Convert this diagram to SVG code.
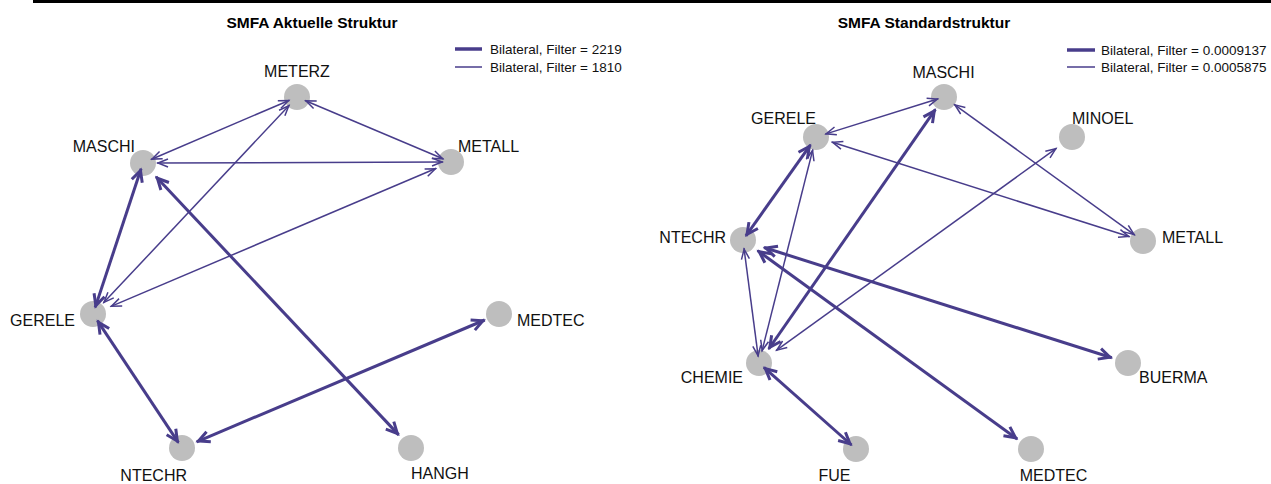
<svg xmlns="http://www.w3.org/2000/svg" width="1271" height="484" viewBox="0 0 1271 484">
<style>
.bg{fill:#ffffff}
.title{font-family:"Liberation Sans",Arial,sans-serif;font-weight:bold;font-size:15.5px;fill:#000;text-anchor:middle}
.lab{font-family:"Liberation Sans",Arial,sans-serif;font-size:16px;fill:#111}
.leg{font-family:"Liberation Sans",Arial,sans-serif;font-size:13.5px;fill:#111}
.node circle{fill:#BEBEBE}
.thin{stroke:#483D8B;stroke-width:1.5;fill:none;marker-start:url(#at);marker-end:url(#at)}
.thick{stroke:#483D8B;stroke-width:3;fill:none;marker-start:url(#ak);marker-end:url(#ak)}
.legthin{stroke:#483D8B;stroke-width:1.5}
.legthick{stroke:#483D8B;stroke-width:3.5}
</style>
<defs>
<marker id="at" viewBox="-14 -7 16 14" refX="0" refY="0" markerWidth="16" markerHeight="14" markerUnits="userSpaceOnUse" orient="auto-start-reverse">
<path d="M-11,-4 L-1,0 L-11,4" fill="none" stroke="#483D8B" stroke-width="1.5"/>
</marker>
<marker id="ak" viewBox="-16 -8 18 16" refX="0" refY="0" markerWidth="18" markerHeight="16" markerUnits="userSpaceOnUse" orient="auto-start-reverse">
<path d="M-13,-5.5 L-2,0 L-13,5.5" fill="none" stroke="#483D8B" stroke-width="3"/>
</marker>
</defs>
<rect class="bg" x="0" y="0" width="1271" height="484"/>
<rect x="33" y="0" width="1238" height="3" fill="#000"/>
<text class="title" x="312" y="28">SMFA Aktuelle Struktur</text>
<text class="title" x="924" y="28">SMFA Standardstruktur</text>
<g id="legend-left">
<line class="legthick" x1="455" y1="49" x2="482" y2="49"/>
<text class="leg" x="490" y="53.5">Bilateral, Filter = 2219</text>
<line class="legthin" x1="455" y1="67" x2="482" y2="67"/>
<text class="leg" x="490" y="71.5">Bilateral, Filter = 1810</text>
</g>
<g id="legend-right">
<line class="legthick" x1="1067" y1="50" x2="1095" y2="50"/>
<text class="leg" x="1101" y="54.5">Bilateral, Filter = 0.0009137</text>
<line class="legthin" x1="1067" y1="67" x2="1095" y2="67"/>
<text class="leg" x="1101" y="71.5">Bilateral, Filter = 0.0005875</text>
</g>
<g id="L-METERZ" class="node"><circle cx="297" cy="97" r="13"/><text class="lab" x="297" y="77" text-anchor="middle">METERZ</text></g>
<g id="L-MASCHI" class="node"><circle cx="143" cy="163" r="13"/><text class="lab" x="135" y="152" text-anchor="end">MASCHI</text></g>
<g id="L-METALL" class="node"><circle cx="451" cy="162" r="13"/><text class="lab" x="458" y="152">METALL</text></g>
<g id="L-GERELE" class="node"><circle cx="93" cy="314" r="13"/><text class="lab" x="75" y="325.5" text-anchor="end">GERELE</text></g>
<g id="L-NTECHR" class="node"><circle cx="182" cy="448" r="13"/><text class="lab" x="187" y="481" text-anchor="end">NTECHR</text></g>
<g id="L-MEDTEC" class="node"><circle cx="499" cy="314" r="13"/><text class="lab" x="517" y="326">MEDTEC</text></g>
<g id="L-HANGH" class="node"><circle cx="411" cy="448" r="13"/><text class="lab" x="411" y="479">HANGH</text></g>
<g id="R-MASCHI" class="node"><circle cx="944" cy="97" r="13"/><text class="lab" x="943.5" y="77.5" text-anchor="middle">MASCHI</text></g>
<g id="R-MINOEL" class="node"><circle cx="1072" cy="137" r="13"/><text class="lab" x="1072" y="123.5">MINOEL</text></g>
<g id="R-GERELE" class="node"><circle cx="816" cy="137" r="13"/><text class="lab" x="816" y="123.5" text-anchor="end">GERELE</text></g>
<g id="R-METALL" class="node"><circle cx="1143" cy="241" r="13"/><text class="lab" x="1162" y="242.5">METALL</text></g>
<g id="R-NTECHR" class="node"><circle cx="743" cy="240" r="13"/><text class="lab" x="726" y="242.5" text-anchor="end">NTECHR</text></g>
<g id="R-CHEMIE" class="node"><circle cx="759" cy="363" r="13"/><text class="lab" x="743" y="382.5" text-anchor="end">CHEMIE</text></g>
<g id="R-BUERMA" class="node"><circle cx="1128" cy="363" r="13"/><text class="lab" x="1139" y="382.5">BUERMA</text></g>
<g id="R-FUE" class="node"><circle cx="856" cy="449" r="13"/><text class="lab" x="834.5" y="481" text-anchor="middle">FUE</text></g>
<g id="R-MEDTEC" class="node"><circle cx="1031" cy="449" r="13"/><text class="lab" x="1053.5" y="481" text-anchor="middle">MEDTEC</text></g>
<g id="connectors">
<line class="thin" x1="151" y1="159.5" x2="289.5" y2="100.2"/>
<line class="thin" x1="157" y1="163" x2="443" y2="162"/>
<line class="thin" x1="305" y1="100.5" x2="443.5" y2="159"/>
<line class="thin" x1="103.3" y1="303.1" x2="289.5" y2="105"/>
<line class="thin" x1="110.5" y1="306.6" x2="436.3" y2="168.3"/>
<line class="thick" x1="95.2" y1="307.4" x2="141.1" y2="168.7"/>
<line class="thick" x1="156" y1="176.8" x2="398.7" y2="434.9"/>
<line class="thick" x1="97.4" y1="320.7" x2="178.4" y2="442.6"/>
<line class="thick" x1="196.7" y1="441.8" x2="484.7" y2="320"/>
<line class="thin" x1="825.2" y1="134.1" x2="938.3" y2="98.8"/>
<line class="thin" x1="831.7" y1="142" x2="1129.7" y2="236.8"/>
<line class="thin" x1="954.1" y1="104.3" x2="1134.9" y2="235.1"/>
<line class="thin" x1="776" y1="350.7" x2="1056.6" y2="148.1"/>
<line class="thin" x1="744" y1="248.2" x2="758.2" y2="356.7"/>
<line class="thin" x1="812.8" y1="149.6" x2="761.9" y2="351.4"/>
<line class="thick" x1="810.5" y1="144.8" x2="745.9" y2="235.9"/>
<line class="thick" x1="935.4" y1="109.3" x2="768.7" y2="349"/>
<line class="thick" x1="764" y1="247.5" x2="1111.8" y2="357.8"/>
<line class="thick" x1="757.6" y1="250.6" x2="1017.2" y2="439"/>
<line class="thick" x1="763.9" y1="367.3" x2="851.5" y2="445"/>
</g>
</svg>
